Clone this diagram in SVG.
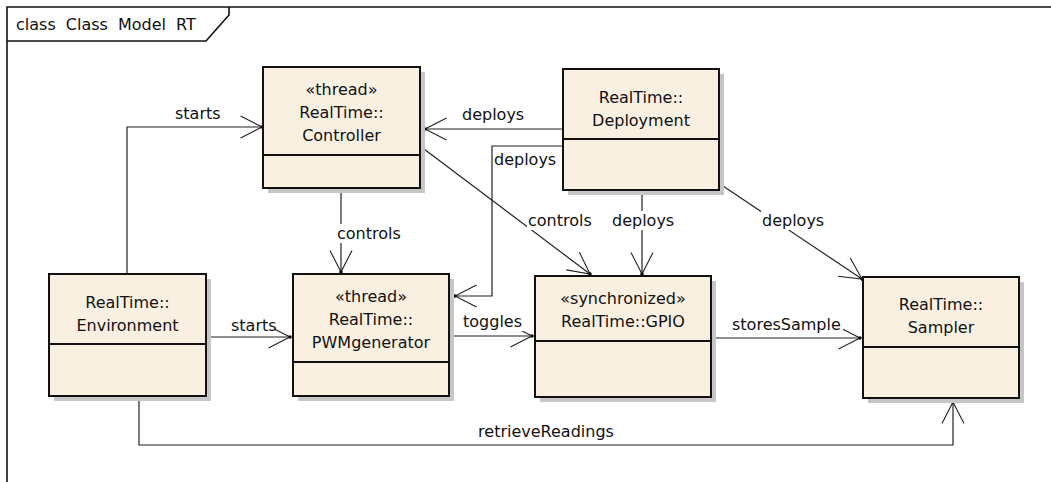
<svg xmlns="http://www.w3.org/2000/svg" width="1051" height="482" viewBox="0 0 1051 482">
  <style>
    .frame { fill: none; stroke: #111; stroke-width: 1.6; }
    .shadow { fill: #c6c6c6; }
    .box { fill: #faf0e2; stroke: #111; stroke-width: 2; }
    .div { stroke: #111; stroke-width: 2; }
    .name { font-family: "DejaVu Sans", "Liberation Sans", sans-serif; font-size: 16px; fill: #111; text-anchor: middle; }
    .edge { fill: none; stroke: #222; stroke-width: 1.2; marker-end: url(#open); }
    .lbl { font-family: "DejaVu Sans", "Liberation Sans", sans-serif; font-size: 16px; fill: #111; }
    .bg { fill: #fff; }
  </style>
  <defs>
    <!-- open UML dependency arrowhead with a dot at the tip -->
    <marker id="open" markerUnits="userSpaceOnUse" markerWidth="30" markerHeight="30" refX="0" refY="0" orient="auto" overflow="visible">
      <path d="M-21.5,-11 L0,0 L-21.5,11" fill="none" stroke="#222" stroke-width="1.1"/>
      <circle cx="0" cy="0" r="1.8" fill="#111"/>
    </marker>
  </defs>

  <rect width="1051" height="482" fill="#fff"/>

  <!-- diagram frame -->
  <g id="frame">
    <path class="frame" d="M7,490 V7 H1060"/>
    <path class="frame" d="M7,41 H206 L229,15 V7"/>
    <text class="lbl" x="16" y="30" word-spacing="5">class Class Model RT</text>
  </g>

  <!-- connectors -->
  <g id="connectors">
    <path class="edge" d="M127,274 V127 H262"/>
    <path class="edge" d="M563,129 H425"/>
    <path class="edge" d="M563,146 H492 V296 H455"/>
    <path class="edge" d="M341,188 V272"/>
    <path class="edge" d="M420,146 L590,274"/>
    <path class="edge" d="M642,190 V274"/>
    <path class="edge" d="M720,184 L862,279"/>
    <path class="edge" d="M206,337 H290"/>
    <path class="edge" d="M449,336 H532"/>
    <path class="edge" d="M711,338 H860"/>
    <path class="edge" d="M139,396 V445 H953 V402"/>

    <rect class="bg" x="174" y="104" width="44" height="19"/>
    <text class="lbl" x="175" y="119">starts</text>
    <rect class="bg" x="461" y="105" width="65" height="19"/>
    <text class="lbl" x="462" y="120">deploys</text>
    <rect class="bg" x="493" y="150" width="64" height="19"/>
    <text class="lbl" x="494" y="165">deploys</text>
    <rect class="bg" x="336" y="224" width="66" height="19"/>
    <text class="lbl" x="337" y="239">controls</text>
    <rect class="bg" x="527" y="211" width="66" height="19"/>
    <text class="lbl" x="528" y="226">controls</text>
    <rect class="bg" x="611" y="211" width="65" height="19"/>
    <text class="lbl" x="612" y="226">deploys</text>
    <rect class="bg" x="761" y="211" width="65" height="19"/>
    <text class="lbl" x="762" y="226">deploys</text>
    <rect class="bg" x="230" y="315.5" width="44" height="19"/>
    <text class="lbl" x="231" y="330.5">starts</text>
    <rect class="bg" x="462" y="312" width="62" height="19"/>
    <text class="lbl" x="463" y="327">toggles</text>
    <rect class="bg" x="731" y="315" width="112" height="19"/>
    <text class="lbl" x="732" y="330">storesSample</text>
    <rect class="bg" x="472" y="422" width="148" height="19"/>
    <text class="lbl" x="546" y="437" text-anchor="middle">retrieveReadings</text>
  </g>

  <!-- classes -->
  <g id="controller">
    <rect class="shadow" x="268" y="72" width="157" height="121"/>
    <rect class="box" x="263" y="67" width="157" height="121"/>
    <line class="div" x1="263" y1="155" x2="420" y2="155"/>
    <text class="name" x="341.5" y="95">«thread»</text>
    <text class="name" x="341.5" y="118">RealTime::</text>
    <text class="name" x="341.5" y="141">Controller</text>
  </g>

  <g id="deployment">
    <rect class="shadow" x="568" y="74" width="156" height="121"/>
    <rect class="box" x="563" y="69" width="156" height="121"/>
    <line class="div" x1="563" y1="139" x2="719" y2="139"/>
    <text class="name" x="641" y="103">RealTime::</text>
    <text class="name" x="641" y="126">Deployment</text>
  </g>

  <g id="environment">
    <rect class="shadow" x="54" y="279" width="157" height="122"/>
    <rect class="box" x="49" y="274" width="157" height="122"/>
    <line class="div" x1="49" y1="344" x2="206" y2="344"/>
    <text class="name" x="127.5" y="308">RealTime::</text>
    <text class="name" x="127.5" y="331">Environment</text>
  </g>

  <g id="pwmgenerator">
    <rect class="shadow" x="298" y="279" width="156" height="122"/>
    <rect class="box" x="293" y="274" width="156" height="122"/>
    <line class="div" x1="293" y1="362" x2="449" y2="362"/>
    <text class="name" x="371" y="302">«thread»</text>
    <text class="name" x="371" y="325">RealTime::</text>
    <text class="name" x="371" y="348">PWMgenerator</text>
  </g>

  <g id="gpio">
    <rect class="shadow" x="540" y="281" width="176" height="121"/>
    <rect class="box" x="535" y="276" width="176" height="121"/>
    <line class="div" x1="535" y1="341" x2="711" y2="341"/>
    <text class="name" x="623" y="304">«synchronized»</text>
    <text class="name" x="623" y="327">RealTime::GPIO</text>
  </g>

  <g id="sampler">
    <rect class="shadow" x="868" y="282" width="156" height="121"/>
    <rect class="box" x="863" y="277" width="156" height="121"/>
    <line class="div" x1="863" y1="347" x2="1019" y2="347"/>
    <text class="name" x="941" y="310">RealTime::</text>
    <text class="name" x="941" y="333">Sampler</text>
  </g>
</svg>
